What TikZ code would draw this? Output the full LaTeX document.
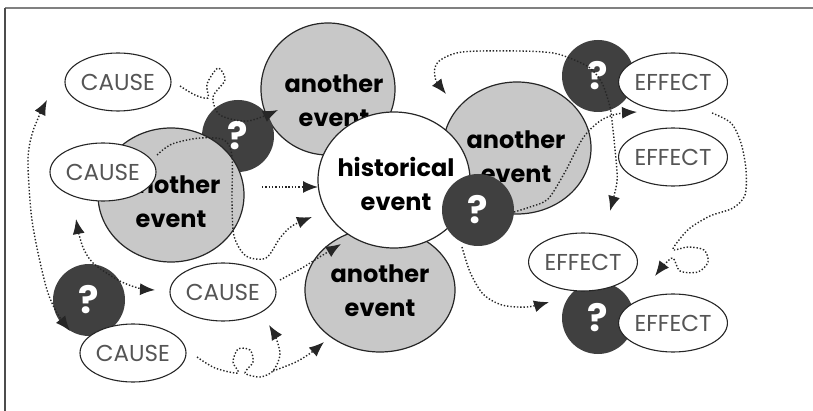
\documentclass[tikz,border=0pt]{standalone}
\usepackage{fontspec}
\setmainfont{Poppins}
\usetikzlibrary{shapes.geometric}
\usetikzlibrary{arrows.meta}
\definecolor{evgray}{RGB}{200,200,200}
\definecolor{qdark}{RGB}{64,64,64}
\definecolor{lbgray}{RGB}{85,85,85}

\begin{document}
\begin{tikzpicture}
[
x=1pt, y=-1pt,
event/.style={ellipse, draw=black!85, line width=1.2pt, fill=evgray, inner sep=0pt},
hist/.style={event, fill=white},
evtext/.style={align=center, font=\fontsize{24}{34}\selectfont\bfseries},
quest/.style={circle, fill=qdark, minimum size=72pt, inner sep=0pt, text=white, font=\fontsize{38}{40}\selectfont\bfseries},
oval/.style={ellipse, draw=black!85, line width=1.1pt, fill=white, minimum width=106pt, minimum height=58pt, inner sep=0pt, text=lbgray, font=\fontsize{23}{25}\selectfont},
flow/.style={draw=black!85, line width=1.4pt, dash pattern=on 1.4pt off 1.9pt, -{Latex[length=15pt,width=12pt]}},
flow2/.style={flow, {Latex[length=15pt,width=12pt]}-{Latex[length=15pt,width=12pt]}},
]
\useasboundingbox (0,0) rectangle (813,411);
\node (ae1) [event, minimum width=134pt, minimum height=132pt] at (328,89) {};
\node (ae1t) [evtext] at (334,101) {another\\event};
\node (ae3) [event, minimum width=148pt, minimum height=132pt] at (517,148) {};
\node (ae3t) [evtext] at (516,157) {another\\event};
\node (ae4) [event, minimum width=150pt, minimum height=124pt] at (380,290) {};
\node (ae4t) [evtext] at (380,291) {another\\event};
\node (q1) [quest] at (238,136) {?};
\node (ae2) [event, minimum width=146pt, minimum height=134pt] at (171,195) {};
\node (ae2t) [evtext] at (171,202) {another\\event};
\node (hist) [hist, minimum width=152pt, minimum height=136pt] at (394,180) {};
\node (histt) [evtext] at (396,184) {historical\\event};
\node (q2) [quest] at (478,210) {?};
\node (q3) [quest] at (598,76) {?};
\node (q4) [quest] at (598,318) {?};
\node (q5) [quest] at (89,300) {?};

\node (c1) [oval] at (118,82) {CAUSE};
\node (c2) [oval] at (103,172) {CAUSE};
\node (c3) [oval] at (223,292) {CAUSE};
\node (c4) [oval] at (133,353) {CAUSE};
\node (e1) [oval] at (673,82) {EFFECT};
\node (e2) [oval] at (673,157) {EFFECT};
\node (e3) [oval] at (583,262) {EFFECT};
\node (e4) [oval] at (673,323) {EFFECT};

\coordinate (a1) at (180,86);  \coordinate (b1) at (278,110);
\coordinate (a2) at (157,155); \coordinate (b2) at (312,217);
\coordinate (a3) at (262,187); \coordinate (b3) at (318,187);
\coordinate (a4) at (280,280); \coordinate (b4) at (341,244);
\coordinate (a5) at (197,357); \coordinate (j5) at (273,371);
\coordinate (b5) at (269,325); \coordinate (c5) at (324,342);
\coordinate (a6) at (47,100);  \coordinate (b6) at (70,331);
\coordinate (a7) at (76,219);  \coordinate (b7) at (155,290);
\coordinate (a9) at (446,94);  \coordinate (b9) at (610,211);
\coordinate (a10) at (514,212); \coordinate (b10) at (637,112);
\coordinate (a11) at (462,247); \coordinate (b11) at (549,302);
\coordinate (a12) at (712,113); \coordinate (b12) at (655,276);

\draw [flow] plot [smooth] coordinates {(a1) (195,95) (208,98) (207,84) (218,68) (225,80) (213,97) (220,115) (248,121) (b1)};
\draw [flow] plot [smooth] coordinates {(a2) (172,144) (200,138) (224,140) (232,156) (232,200) (234,236) (246,256) (266,258) (280,238) (292,226) (b2)};
\draw [flow] (a3) -- (b3);
\draw [flow] plot [smooth] coordinates {(a4) (302,268) (318,258) (b4)};
\draw [flow] plot [smooth] coordinates {(a5) (215,368) (238,373) (233,362) (238,349) (250,350) (253,362) (245,373) (260,377) (j5) (280,355) (276,338) (b5)};
\draw [flow] plot [smooth] coordinates {(j5) (296,362) (312,352) (c5)};
\draw [flow2] plot [smooth] coordinates {(a6) (34,128) (28,158) (31,212) (37,248) (47,290) (57,313) (b6)};
\draw [flow2] plot [smooth] coordinates {(a7) (82,245) (93,263) (118,280) (138,288) (b7)};
\draw [flow2] plot [smooth] coordinates {(a9) (435,77) (438,62) (462,52) (520,51) (553,53) (572,59) (590,68) (602,83) (610,107) (613,130) (616,160) (617,182) (b9)};
\draw [flow] plot [smooth] coordinates {(a10) (530,207) (548,199) (565,172) (583,138) (600,121) (617,114) (b10)};
\draw [flow] plot [smooth] coordinates {(a11) (470,272) (483,294) (502,305) (527,307) (b11)};
\draw [flow] plot [smooth] coordinates {(a12) (731,123) (741,143) (746,170) (745,195) (733,208) (710,216) (690,228) (679,240) (673,250) (688,247) (704,250) (708,262) (698,272) (680,271) (673,258) (664,265) (b12)};

\draw [gray, line width=2.5pt] (5,8) -- (813,8);
\draw [black!70, line width=1.2pt] (5,8) -- (5,411);
\end{tikzpicture}
\end{document}
